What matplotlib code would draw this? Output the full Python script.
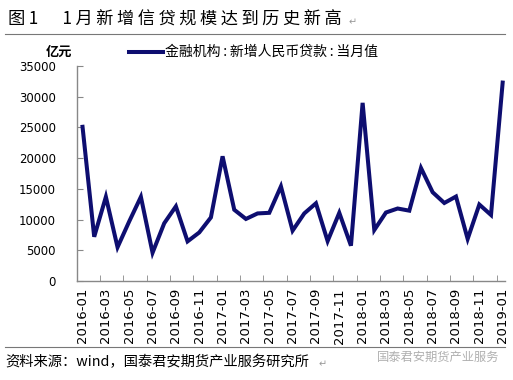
import matplotlib
matplotlib.use('Agg')
import matplotlib.pyplot as plt
import pandas as pd

plt.rcParams['font.family'] = ['Noto Sans CJK SC', 'DejaVu Sans']

# 金融机构:新增人民币贷款:当月值 (亿元), 2016-01 .. 2019-01
months = pd.date_range('2016-01-01', '2019-01-01', freq='MS').strftime('%Y-%m').tolist()
loans = [25100, 7200, 13700, 5500, 9700, 13700, 4600, 9400, 12150, 6450, 7900, 10350,
         20300, 11600, 10100, 11000, 11100, 15400, 8200, 11000, 12650, 6500, 11100, 5750,
         29000, 8300, 11150, 11800, 11450, 18400, 14450, 12700, 13750, 6850, 12450, 10750,
         32300]

title = '图1　1月新增信贷规模达到历史新高'
legend_label = '金融机构:新增人民币贷款:当月值'
source = '资料来源：wind，国泰君安期货产业服务研究所'


def spaced(s, sep='\u2009'):
    # the original uses a wide, letter-spaced font
    return sep.join(s)


line_color = '#0e0e70'
W, H = 513, 380
fig = plt.figure(figsize=(W / 100, H / 100), dpi=100)
ax = fig.add_axes([76.7 / W, 1 - 281 / H, (505 - 76.7) / W, (281 - 66) / H])

x = list(range(len(months)))
ax.plot(x, loans, color=line_color, lw=2.9, solid_joinstyle='miter')

ax.set_xlim(-0.5, 36.2)
ax.set_ylim(0, 35000)
ax.set_yticks(range(0, 35001, 5000))
ax.set_yticklabels([str(v) for v in range(0, 35001, 5000)], fontsize=8.5, family='DejaVu Sans')

ax.set_xticks(x[::2])
ax.set_xticklabels(months[::2], rotation=90, fontsize=9.5, family='DejaVu Sans')
ax.set_xticks([i + 1.5 for i in x[::2][:-1]], minor=True)
ax.tick_params(axis='x', which='major', length=0, pad=5)
ax.tick_params(axis='x', which='minor', length=4, direction='in', color='#888888')
ax.tick_params(axis='y', length=4, direction='in', color='#888888', pad=15)

for s in ['top', 'right']:
    ax.spines[s].set_visible(False)
for s in ['left', 'bottom']:
    ax.spines[s].set_color('#888888')
    ax.spines[s].set_linewidth(1.0)

# title and rules
fig.text(8 / W, 1 - 20 / H, spaced(title), fontsize=12.4, va='center', ha='left')
fig.text(349 / W, 1 - 22 / H, '↵', fontsize=7, color='#999999', va='center')
fig.add_artist(plt.Line2D([5 / W, 505 / W], [1 - 34 / H, 1 - 34 / H], color='#777777', lw=0.8))

# unit and legend
fig.text(46 / W, 1 - 52 / H, '亿元', fontsize=9.5, weight='bold', va='center')
fig.add_artist(plt.Line2D([129 / W, 163 / W], [1 - 52 / H, 1 - 52 / H], color=line_color, lw=2.9))
fig.text(165 / W, 1 - 52 / H, legend_label.replace(':', '\u2009:\u2009'), fontsize=10, va='center')

# footer
fig.add_artist(plt.Line2D([5 / W, 505 / W], [1 - 347 / H, 1 - 347 / H], color='#777777', lw=0.8))
fig.text(5 / W, 1 - 362 / H, source, fontsize=10.3, va='center')
fig.text(319 / W, 1 - 364 / H, '↵', fontsize=7, color='#999999', va='center')
fig.text(377 / W, 1 - 357 / H, '国泰君安期货产业服务', fontsize=8.8, color='#b0b0b0', va='center')

fig.savefig('out.png', dpi=100)
